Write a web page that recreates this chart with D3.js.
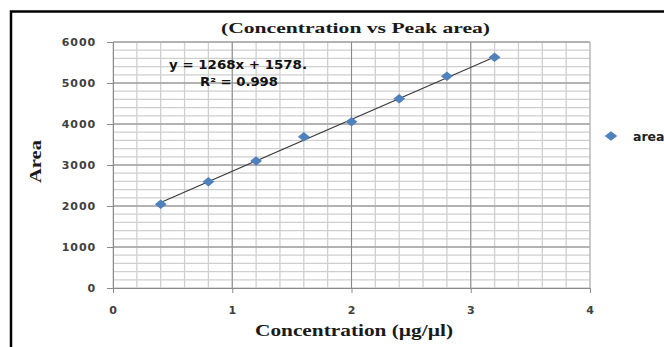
<!DOCTYPE html>
<html lang="en">
<head>
<meta charset="UTF-8">
<script src="https://d3js.org/d3.v7.min.js"></script>
<style>
  body { margin: 0; background: #fff; }
  svg { display: block; }
  .tick text { font-family: "DejaVu Sans", Verdana, sans-serif; font-weight: bold; font-size: 11px; fill: #404040; letter-spacing: 0.9px; }
</style>
<title>Concentration vs Peak area</title>
</head>
<body>
<div id="chart"></div>
<script>
// data
var concentration = [0.4, 0.8, 1.2, 1.6, 2.0, 2.4, 2.8, 3.2];
var area = [2040, 2590, 3100, 3690, 4056, 4617, 5163, 5627];
var xTicks = [0, 1, 2, 3, 4];
var yTicks = [0, 1000, 2000, 3000, 4000, 5000, 6000];
var fitSlope = 1268, fitIntercept = 1578;
var eqLines = ["y = 1268x  + 1578.", "R\u00b2 = 0.998"];
var seriesName = "area";

var width = 664, height = 347;
var margin = {top: 42, right: 74, bottom: 59, left: 113};

var svg = d3.select("#chart").append("svg")
    .attr("width", width)
    .attr("height", height);

// outer frame (runs past the right and bottom edges)
svg.append("rect")
    .attr("x", 11).attr("y", 11.5)
    .attr("width", 700).attr("height", 400)
    .attr("fill", "none").attr("stroke", "#000").attr("stroke-width", 2.5);

var x = d3.scaleLinear().domain([0, 4]).range([margin.left, width - margin.right]);
var y = d3.scaleLinear().domain([0, 6000]).range([height - margin.bottom, margin.top]);

// minor grid
svg.append("g").selectAll("line.vminor")
    .data(x.ticks(20))
    .join("line")
    .attr("x1", d => x(d)).attr("x2", d => x(d))
    .attr("y1", y(0)).attr("y2", y(6000))
    .attr("stroke", "#cfcfcf").attr("stroke-width", 1.3);
svg.append("g").selectAll("line.hminor")
    .data(y.ticks(30))
    .join("line")
    .attr("x1", x(0)).attr("x2", x(4))
    .attr("y1", d => y(d)).attr("y2", d => y(d))
    .attr("stroke", "#cfcfcf").attr("stroke-width", 1.3);

// major grid
svg.append("g").selectAll("line")
    .data(xTicks.slice(1, -1))
    .join("line")
    .attr("x1", d => x(d)).attr("x2", d => x(d))
    .attr("y1", y(0)).attr("y2", y(6000))
    .attr("stroke", "#8a8a8a").attr("stroke-width", 1);
svg.append("g").selectAll("line")
    .data(yTicks.slice(1))
    .join("line")
    .attr("x1", x(0)).attr("x2", x(4))
    .attr("y1", d => y(d)).attr("y2", d => y(d))
    .attr("stroke", "#8a8a8a").attr("stroke-width", 1);
svg.append("line")
    .attr("x1", x(4)).attr("x2", x(4))
    .attr("y1", y(0)).attr("y2", y(6000))
    .attr("stroke", "#b5b5b5");

// axes
var xAxis = svg.append("g")
    .attr("transform", `translate(0,${y(0)})`)
    .call(d3.axisBottom(x).tickValues(xTicks).tickSize(5).tickPadding(13).tickSizeOuter(0).tickFormat(d3.format("d")));
var yAxis = svg.append("g")
    .attr("transform", `translate(${x(0)},0)`)
    .call(d3.axisLeft(y).tickValues(yTicks).tickSize(6).tickPadding(11).tickSizeOuter(0).tickFormat(d3.format("d")));
[xAxis, yAxis].forEach(g => {
    g.select(".domain").attr("stroke", "#8a8a8a");
    g.selectAll(".tick line").attr("stroke", "#8a8a8a");
});

// trend line
svg.append("line")
    .attr("x1", x(concentration[0]))
    .attr("y1", y(fitSlope * concentration[0] + fitIntercept))
    .attr("x2", x(concentration[concentration.length - 1]))
    .attr("y2", y(fitSlope * concentration[concentration.length - 1] + fitIntercept))
    .attr("stroke", "#3a3a3a").attr("stroke-width", 1.1);

// points (excel-style diamonds, a little wider than tall)
var diamond = d3.symbol().type(d3.symbolSquare).size(50);
svg.append("g").selectAll("path")
    .data(concentration)
    .join("path")
    .attr("d", diamond)
    .attr("transform", (d, i) => `translate(${x(d)},${y(area[i])}) scale(1.18,0.95) rotate(45)`)
    .attr("fill", "#4f81bd");

// equation
svg.append("g").selectAll("text")
    .data(eqLines)
    .join("text")
    .attr("x", (d, i) => i === 0 ? 169 : 200)
    .attr("y", (d, i) => i === 0 ? 69 : 86)
    .attr("textLength", (d, i) => i === 0 ? 138 : 78)
    .attr("lengthAdjust", "spacingAndGlyphs")
    .attr("font-family", "DejaVu Sans, sans-serif")
    .attr("font-weight", "bold")
    .attr("font-size", 11.5)
    .attr("fill", "#111")
    .text(d => d);

// titles
svg.append("text")
    .attr("x", 221).attr("y", 33)
    .attr("textLength", 269).attr("lengthAdjust", "spacingAndGlyphs")
    .attr("font-family", "Liberation Serif, serif")
    .attr("font-weight", "bold").attr("font-size", 15.5)
    .attr("fill", "#1a1a1a")
    .text("(Concentration vs Peak area)");

svg.append("text")
    .attr("x", 255).attr("y", 336)
    .attr("textLength", 198).attr("lengthAdjust", "spacingAndGlyphs")
    .attr("font-family", "Liberation Serif, serif")
    .attr("font-weight", "bold").attr("font-size", 16)
    .attr("fill", "#1a1a1a")
    .text("Concentration (\u00b5g/\u00b5l)");

svg.append("text")
    .attr("transform", "translate(41,183) rotate(-90)")
    .attr("textLength", 43).attr("lengthAdjust", "spacingAndGlyphs")
    .attr("font-family", "Liberation Serif, serif")
    .attr("font-weight", "bold").attr("font-size", 16)
    .attr("fill", "#1a1a1a")
    .text("Area");

// legend
var legend = svg.append("g").attr("transform", "translate(611,136)");
legend.append("path")
    .attr("d", diamond)
    .attr("transform", "scale(1.25,0.95) rotate(45)")
    .attr("fill", "#4f81bd");
legend.append("text")
    .attr("x", 22).attr("y", 5)
    .attr("font-family", "DejaVu Sans, sans-serif")
    .attr("font-weight", "bold").attr("font-size", 12.5)
    .attr("fill", "#222")
    .text(seriesName);
</script>
</body>
</html>
